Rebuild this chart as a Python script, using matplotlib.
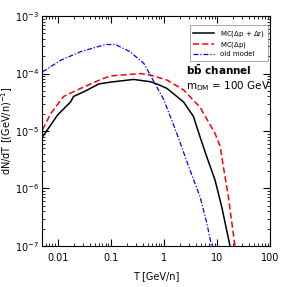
import matplotlib
matplotlib.use("Agg")
import matplotlib.pyplot as plt
from matplotlib.ticker import LogLocator, NullFormatter

# Data
T_full = [0.0052, 0.01, 0.0175, 0.02, 0.031, 0.06, 0.1, 0.27, 0.56, 0.8, 1.15, 2.35, 3.6, 4.8, 6.4, 9.2, 12.3, 17.6]
N_full = [7.9e-6, 1.9e-5, 3.2e-5, 4.0e-5, 4.8e-5, 6.6e-5, 7.1e-5, 7.9e-5, 7.2e-5, 6.4e-5, 5.5e-5, 3.2e-5, 1.8e-5, 7.9e-6, 3.6e-6, 1.4e-6, 4.8e-7, 1.0e-7]

T_dp = [0.0052, 0.0074, 0.013, 0.027, 0.065, 0.1, 0.36, 0.56, 1.15, 2.35, 4.8, 9.2, 11.5, 13.2, 16.4, 21.8]
N_dp = [1.05e-5, 2.0e-5, 4.0e-5, 5.5e-5, 7.9e-5, 9.1e-5, 1.0e-4, 9.4e-5, 7.7e-5, 5.2e-5, 2.6e-5, 9.1e-6, 5.4e-6, 2.4e-6, 7.2e-7, 1.0e-7]

T_old = [0.0052, 0.0114, 0.027, 0.08, 0.123, 0.23, 0.42, 0.56, 1.0, 1.76, 3.1, 4.8, 6.45, 7.9]
N_old = [1.07e-4, 1.7e-4, 2.4e-4, 3.2e-4, 3.2e-4, 2.4e-4, 1.5e-4, 9.3e-5, 3.5e-5, 9.0e-6, 2.1e-6, 7.2e-7, 2.5e-7, 1.0e-7]

labels = [r"MC($\Delta$p + $\Delta$r)", r"MC($\Delta$p)", "old model"]

fig = plt.figure(figsize=(2.87, 2.87), dpi=100)
ax = fig.add_axes([0.145, 0.143, 0.796, 0.801])

ax.plot(T_full, N_full, color="black", lw=1.1, label=labels[0])
ax.plot(T_dp, N_dp, color="red", lw=1.1, ls=(0, (4, 2)), label=labels[1])
ax.plot(T_old, N_old, color="blue", lw=0.9, ls=(0, (4, 1.5, 1, 1.5)), label=labels[2])

ax.set_xscale("log")
ax.set_yscale("log")
ax.set_xlim(0.005, 100)
ax.set_ylim(1e-7, 1e-3)

ax.set_xticks([0.01, 0.1, 1, 10, 100])
ax.set_xticklabels(["0.01", "0.1", "1", "10", "100"])
ax.yaxis.set_minor_locator(LogLocator(base=10, subs=range(2, 10), numticks=20))
ax.xaxis.set_minor_locator(LogLocator(base=10, subs=range(2, 10), numticks=20))
ax.yaxis.set_minor_formatter(NullFormatter())
ax.xaxis.set_minor_formatter(NullFormatter())

ax.tick_params(which="both", direction="in", top=True, right=True, labelsize=7)
ax.tick_params(which="major", length=5, width=0.8)
ax.tick_params(which="minor", length=2.5, width=0.6)
ax.tick_params(axis="x", pad=5)
ax.tick_params(axis="y", pad=2)

ax.set_xlabel("T [GeV/n]", fontsize=7, labelpad=6)
ax.set_ylabel(r"dN/dT [(GeV/n)$^{-1}$]", fontsize=7)
ax.yaxis.set_label_coords(-0.118, 0.5)

leg = ax.legend(loc="upper right", bbox_to_anchor=(0.992, 0.961), fontsize=5,
                frameon=True, fancybox=False, edgecolor="gray", handlelength=3,
                borderpad=0.5, labelspacing=0.2, borderaxespad=0)
leg.get_frame().set_linewidth(0.6)

ax.text(0.633, 0.765, r"$\mathbf{b\bar{b}}$ channel", transform=ax.transAxes,
        fontsize=7.5, fontweight="bold", va="center")
ax.text(0.633, 0.695, r"m$_{\rm DM}$ = 100 GeV", transform=ax.transAxes,
        fontsize=7.5, va="center")

fig.savefig("out.png", dpi=100)
